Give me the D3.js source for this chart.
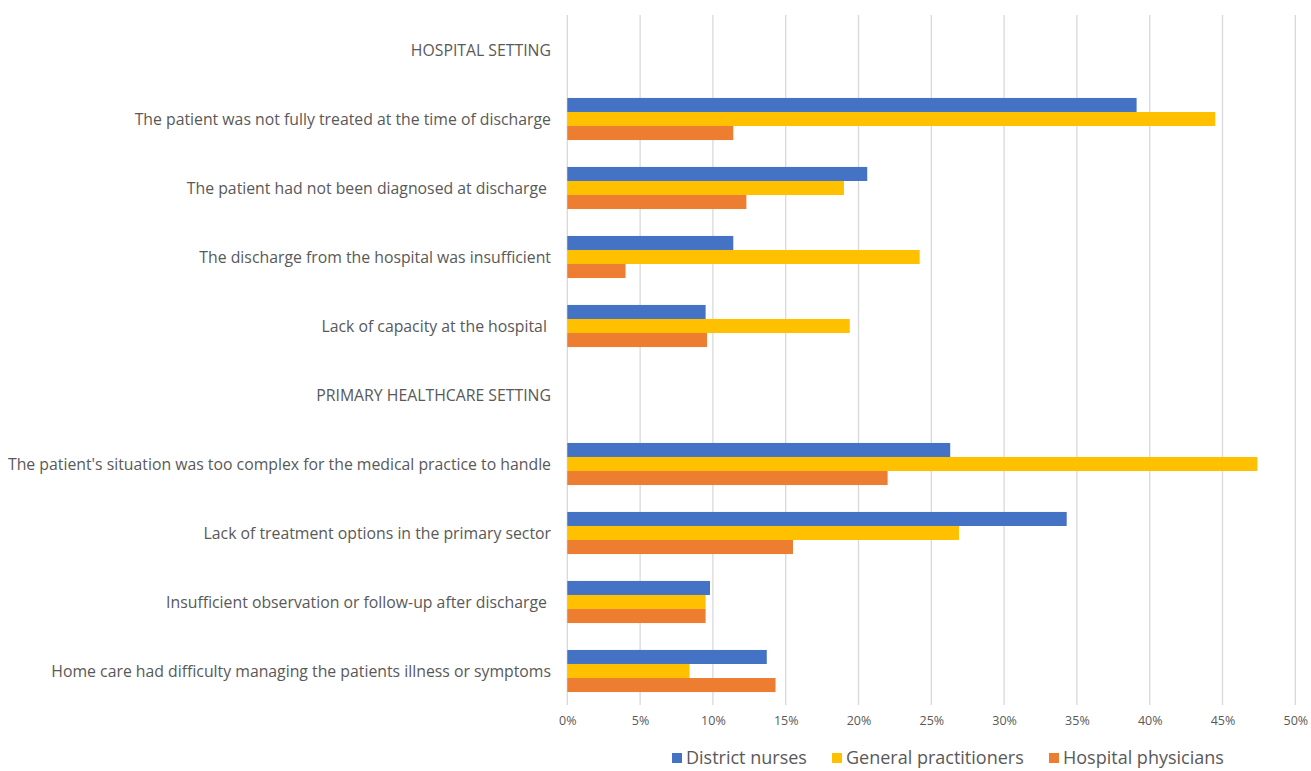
<!DOCTYPE html>
<html>
<head>
<meta charset="utf-8">
<script src="https://cdn.jsdelivr.net/npm/d3@7"></script>
<style>
  body { margin: 0; background: #fff; }
  text { font-family: "Open Sans", "Noto Sans", sans-serif; fill: #595959; }
</style>
</head>
<body>
<svg id="chart" width="1311" height="771"></svg>
<script>
const categories = [
  "HOSPITAL SETTING",
  "The patient was not fully treated at the time of discharge",
  "The patient had not been diagnosed at discharge ",
  "The discharge from the hospital was insufficient",
  "Lack of capacity at the hospital ",
  "PRIMARY HEALTHCARE SETTING",
  "The patient's situation was too complex for the medical practice to handle",
  "Lack of treatment options in the primary sector",
  "Insufficient observation or follow-up after discharge ",
  "Home care had difficulty managing the patients illness or symptoms"
];
const seriesNames = ["District nurses", "General practitioners", "Hospital physicians"];
const districtNurses       = [null, 39.1, 20.6, 11.4, 9.5, null, 26.3, 34.3, 9.8, 13.7];
const generalPractitioners = [null, 44.5, 19.0, 24.2, 19.4, null, 47.4, 26.9, 9.5, 8.4];
const hospitalPhysicians   = [null, 11.4, 12.3, 4.0, 9.6, null, 22.0, 15.5, 9.5, 14.3];
const xTicks = [0, 5, 10, 15, 20, 25, 30, 35, 40, 45, 50];
const colors = ["#4472C4", "#FFC000", "#ED7D31"];

const seriesValues = [districtNurses, generalPractitioners, hospitalPhysicians];

const svg = d3.select("#chart");
const mLeft = 567.3, mRight = 1295.3, mTop = 15.5, mBottom = 705.5;

const x = d3.scaleLinear().domain([0, 50]).range([mLeft, mRight]);
const y = d3.scaleBand().domain(categories).range([mTop, mBottom]).paddingInner(0.39).paddingOuter(0.195);
const ySub = d3.scaleBand().domain(seriesNames).range([0, y.bandwidth()]);

// gridlines
svg.append("g").selectAll("line").data(xTicks).join("line")
  .attr("x1", d => x(d)).attr("x2", d => x(d))
  .attr("y1", 15).attr("y2", 705)
  .attr("stroke", "#d9d9d9").attr("stroke-width", 1.3);

// bars
const groups = svg.append("g").selectAll("g").data(categories).join("g")
  .attr("transform", d => `translate(0,${y(d)})`);
groups.selectAll("rect")
  .data((c, i) => seriesNames.map((s, j) => ({ s, v: seriesValues[j][i], j })).filter(d => d.v !== null))
  .join("rect")
  .attr("x", x(0))
  .attr("y", d => ySub(d.s))
  .attr("width", d => x(d.v) - x(0))
  .attr("height", ySub.bandwidth())
  .attr("fill", d => colors[d.j]);

// category labels
svg.append("g").selectAll("text").data(categories).join("text")
  .attr("x", 551)
  .attr("y", d => y(d) + y.bandwidth() / 2)
  .attr("dy", "0.35em")
  .attr("text-anchor", "end")
  .style("white-space", "pre")
  .style("font-size", "15.8px")
  .text(d => d);

// x axis tick labels
const xAxis = d3.axisBottom(x).tickValues(xTicks).tickFormat(d => d + "%").tickSize(0).tickPadding(0);
const ax = svg.append("g").attr("transform", "translate(0,716)").call(xAxis);
ax.select(".domain").remove();
ax.selectAll("text").style("font-size", "12.5px").style("fill", "#595959")
  .style("font-family", "'Open Sans', sans-serif").attr("dy", "0.71em");

// legend
const legendItems = [
  { name: seriesNames[0], x: 672, color: colors[0] },
  { name: seriesNames[1], x: 832, color: colors[1] },
  { name: seriesNames[2], x: 1049, color: colors[2] }
];
const lg = svg.append("g").selectAll("g").data(legendItems).join("g")
  .attr("transform", d => `translate(${d.x},753)`);
lg.append("rect").attr("width", 10).attr("height", 10).attr("fill", d => d.color);
lg.append("text").attr("x", 14).attr("y", 5).attr("dy", "0.35em")
  .style("font-size", "18px").text(d => d.name);
</script>
</body>
</html>
